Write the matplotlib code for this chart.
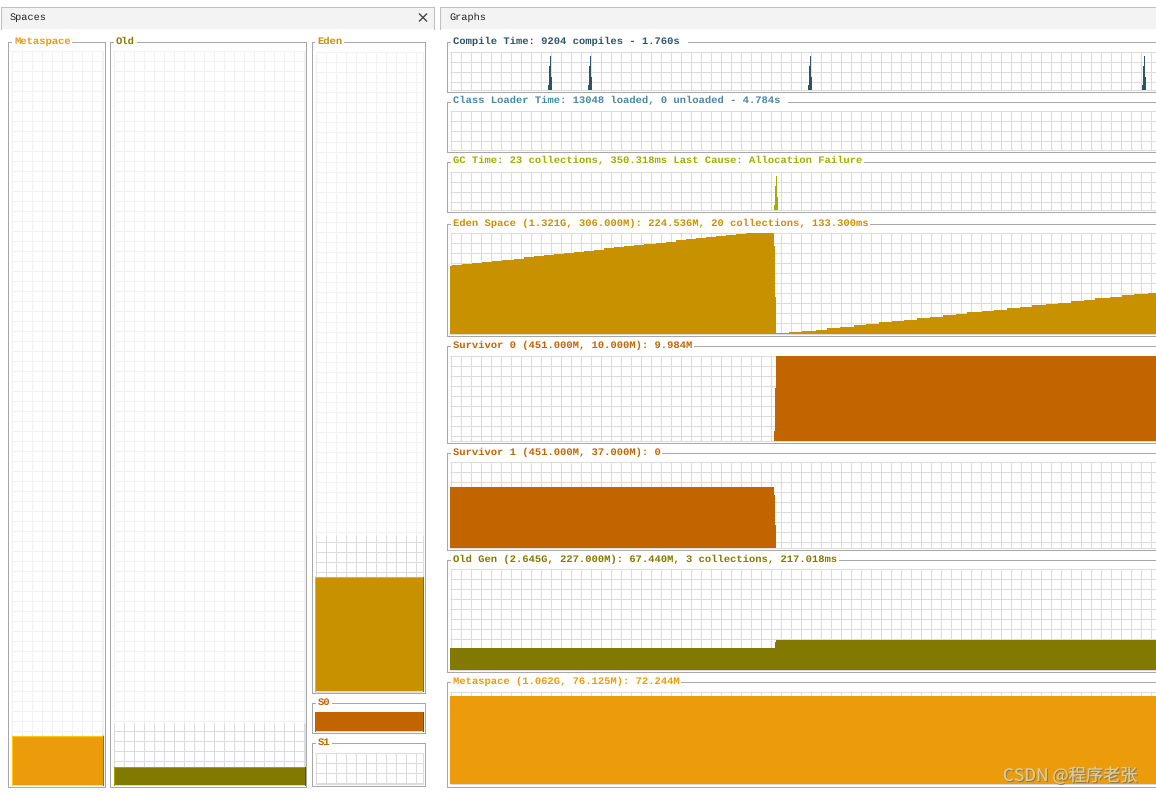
#!/usr/bin/env python3

import numpy as np
import matplotlib
matplotlib.use("Agg")
import matplotlib.pyplot as plt
from matplotlib.patches import Rectangle

W, H = 1156, 795
MONO = "Liberation Mono"

# colours
C_META = "#ec9c0a"
C_EDEN = "#c79100"
C_SURV = "#c26500"
C_OLD = "#827a00"
C_COMPILE = "#2f5468"
C_CLASS = "#4a86a8"
C_GC = "#9db000"
GRID = "#dcdcdc"
GRID_LIGHT = "#f2f2f2"
FRAME = "#a8a8a8"

# Spaces panel, in MB: max, capacity, used
meta_space = [1087.0, 76.125, 72.244]
old_space = [2708.0, 227.0, 67.44]
eden_space = [1352.0, 330.0, 241.0]
s0_space = [10.0, 10.0, 9.984]
s1_space = [37.0, 37.0, 0.0]

# Graphs panel, time axis is samples from the left edge
compile_t = [0, 98, 99, 100, 101, 102, 138, 139, 140, 141, 142,
             358, 359, 360, 361, 362, 692, 693, 694, 695, 696, 706]
compile_pct = [0, 13, 63, 89, 34, 0, 13, 63, 89, 34, 0,
               13, 63, 89, 34, 0, 13, 63, 89, 34, 0, 0]
gc_t = [0, 324, 325, 326, 327, 328, 706]
gc_pct = [0, 13, 63, 89, 34, 0, 0]

eden_t = [0, 2.3, 12.3, 22.3, 32.3, 42.3, 52.3, 64, 74, 84, 94, 104, 114, 124, 134,
          144, 154, 164, 174, 184, 194, 205.7, 215.7, 225.7, 235.7, 245.7, 255.7,
          265.7, 275.7, 285.7, 295.7, 324, 325, 326,
          339.3, 352, 366, 377.3, 390.3, 403.7, 416.3, 429.3, 442, 454, 467.3, 480,
          493.3, 506, 517.3, 532, 544, 557.3, 570, 581.7, 596, 608, 621.3, 634,
          645.3, 660, 671.7, 684, 698, 706]
eden_pct = [67, 68, 69, 70, 71, 72, 73, 74, 76, 77, 78, 79, 80, 81, 82,
            83, 85, 86, 87, 88, 89, 90, 91, 93, 94, 95, 96,
            97, 98, 99, 100, 87, 37, 0.5,
            2, 3, 4, 6, 7, 9, 10, 12, 13, 14, 16, 17,
            19, 20, 22, 23, 24, 26, 27, 29, 30, 31, 33, 34,
            36, 37, 39, 40, 41, 41]

s0_t = [324, 325, 326, 706]
s0_used = [1.2, 6.2, 9.984, 9.984]
s1_t = [0, 324, 325, 326]
s1_used = [26.3, 22.9, 9.9, 0]
old_t = [0, 325, 326, 706]
old_used = [49.6, 62.4, 67.44, 67.44]
meta_t = [0, 706]
meta_used = [72.244, 72.244]

plt.rcParams["font.family"] = [MONO, "DejaVu Sans Mono"]
# hinting rounds the mono advance, titles came out too long or too short
plt.rcParams["text.hinting"] = "no_hinting"
fig = plt.figure(figsize=(W / 100, H / 100), dpi=100, facecolor="white")

# background axes in pixels for tabs, frames and titles
bg = fig.add_axes([0, 0, 1, 1])
bg.set_xlim(0, W)
bg.set_ylim(H, 0)
bg.axis("off")

# lines land one pixel late otherwise
SHIFT = 1


def panel_axes(x0, y0, x1, y1):
    ax = fig.add_axes([x0 / W, 1 - y1 / H, (x1 - x0) / W, (y1 - y0) / H])
    ax.axis("off")
    ax.patch.set_alpha(0)
    return ax


def frame(x0, y0, x1, y1, title, color, tx, open_right=False):
    x0, y0, x1, y1 = x0 - SHIFT, y0 - SHIFT, x1 - SHIFT, y1 - SHIFT
    bg.plot([x0, x0, x1], [y0, y1, y1], color=FRAME, lw=0.75)
    bg.plot([x0, x1], [y0, y0], color=FRAME, lw=0.75)
    if not open_right:
        bg.plot([x1, x1], [y0, y1], color=FRAME, lw=0.75)
    bg.text(tx, y0 - 0.5, title, color=color, fontsize=7.56, fontweight="bold",
            ha="left", va="center", zorder=5,
            bbox=dict(facecolor="white", edgecolor="none", pad=1.2))


def tab(x0, x1, label, tx):
    bg.add_patch(Rectangle((x0, 7), x1 - x0, 21.5, facecolor="#f3f3f3", edgecolor="none"))
    bg.plot([x0, x0, x1], [28.5, 7, 7], color="#c0c0c0", lw=0.75)
    bg.text(tx, 17, label, color="#222222", fontsize=7.4, ha="left", va="center")


tab(0.5, 433.5, "Spaces", 10)
bg.plot([433.5, 433.5], [7, 28.5], color="#c0c0c0", lw=0.75)
tab(439.5, 1156, "Graphs", 449)
bg.plot([419.5, 426.5], [14, 21], color="#444444", lw=1.0)
bg.plot([419.5, 426.5], [21, 14], color="#444444", lw=1.0)


def space_panel(frame_box, plot_box, title, tx, values, color, light, dark):
    frame(*frame_box, title, color, tx)
    x0, y0, x1, y1 = plot_box
    h_px = y1 - y0
    w_px = x1 - x0
    vmax, cap, used = values
    ax = panel_axes(x0, y0, x1, y1)
    ax.set_xlim(0, w_px)
    ax.set_ylim(0, vmax)
    cap_level = min(cap, vmax)

    xs = np.arange(0.5, w_px + 1, 10)
    rows = vmax * (1 - np.arange(0, h_px + 1, 10) / h_px)
    ax.vlines(xs, cap_level, vmax, color=GRID_LIGHT, lw=0.75, clip_on=False, zorder=1)
    ax.vlines(xs, 0, cap_level, color=GRID, lw=0.75, clip_on=False, zorder=1)
    for r in rows:
        ax.hlines(r, 0, w_px, color=GRID if r <= cap_level else GRID_LIGHT, lw=0.75,
                  clip_on=False, zorder=1)
    ax.hlines(0, 0, w_px, color=GRID, lw=0.75, clip_on=False, zorder=1)
    ax.vlines(w_px, cap_level, vmax, color=GRID_LIGHT, lw=0.75, clip_on=False, zorder=1)
    ax.vlines(w_px, 0, cap_level, color=GRID, lw=0.75, clip_on=False, zorder=1)

    if used > 0:
        ax.fill_between([0, w_px], 0, used, color=color, lw=0, zorder=2)
        ax.plot([0, 0, w_px], [0, used, used], color=light, lw=0.75, zorder=3, clip_on=False)
        ax.plot([w_px, w_px], [0, used], color=dark, lw=0.75, zorder=3, clip_on=False)


space_panel((8.5, 42.5, 105.5, 787.5), (11.5, 50.7, 103, 785), "Metaspace", 14,
            meta_space, C_META, "#ffc800", "#a06d08")
space_panel((110.5, 42.5, 307, 787.5), (113.5, 50.7, 304.5, 785), "Old", 116,
            old_space, C_OLD, "#a8a000", "#5c5600")
space_panel((312.5, 42.5, 425.5, 693.5), (315.3, 51.7, 422.7, 691), "Eden", 317,
            eden_space, C_EDEN, "#f0b400", "#8f6a00")
space_panel((312.5, 703.5, 425.5, 733.5), (315.3, 712, 422.7, 731), "S0", 318,
            s0_space, C_SURV, C_SURV, "#8a4800")
space_panel((312.5, 743.5, 425.5, 786.5), (315.3, 752.5, 422.7, 783.5), "S1", 318,
            s1_space, C_SURV, C_SURV, "#8a4800")


def graph_panel(frame_y, plot_y, title, color, ymax):
    frame(447.5, frame_y[0], 1158, frame_y[1], title, color, 453, open_right=True)
    y0, y1 = plot_y
    h_px = y1 - y0
    ax = panel_axes(450, y0, 1156, y1)
    ax.set_xlim(0, 706)
    ax.set_ylim(0, ymax)
    ax.vlines(np.arange(0.5, 706, 10), 0, ymax, color=GRID, lw=0.75, clip_on=False, zorder=1)
    rows = ymax * (1 - np.arange(0, h_px, 10) / h_px)
    ax.hlines(rows, 0, 706, color=GRID, lw=0.75, clip_on=False, zorder=1)
    ax.hlines(0, 0, 706, color=GRID, lw=0.75, clip_on=False, zorder=1)
    return ax


ax = graph_panel((42.5, 92.5), (51.7, 90), "Compile Time: 9204 compiles - 1.760s ", C_COMPILE, 100)
ax.fill_between(compile_t, 0, compile_pct, step="post", color=C_COMPILE, lw=0, zorder=2)

ax = graph_panel((102.5, 152.5), (111.3, 150), "Class Loader Time: 13048 loaded, 0 unloaded - 4.784s ", C_CLASS, 100)

ax = graph_panel((162.5, 212.5), (171.7, 210), "GC Time: 23 collections, 350.318ms Last Cause: Allocation Failure", C_GC, 100)
ax.fill_between(gc_t, 0, gc_pct, step="post", color=C_GC, lw=0, zorder=2)

ax = graph_panel((224.5, 336.5), (233, 334), "Eden Space (1.321G, 306.000M): 224.536M, 20 collections, 133.300ms", C_EDEN, 100)
ax.fill_between(eden_t, 0, eden_pct, step="post", color=C_EDEN, lw=0, zorder=2)

ax = graph_panel((346.5, 443.5), (355.5, 441), "Survivor 0 (451.000M, 10.000M): 9.984M", C_SURV, 10)
ax.fill_between(s0_t, 0, s0_used, step="post", color=C_SURV, lw=0, zorder=2)

ax = graph_panel((453.5, 550.5), (462.3, 548), "Survivor 1 (451.000M, 37.000M): 0", C_SURV, 37)
ax.fill_between(s1_t, 0, s1_used, step="post", color=C_SURV, lw=0, zorder=2)

ax = graph_panel((560.5, 672.5), (569.3, 670), "Old Gen (2.645G, 227.000M): 67.440M, 3 collections, 217.018ms", C_OLD, 227)
ax.fill_between(old_t, 0, old_used, step="post", color=C_OLD, lw=0, zorder=2)

ax = graph_panel((682.5, 787.5), (691.7, 784), "Metaspace (1.062G, 76.125M): 72.244M", C_META, 76.125)
ax.fill_between(meta_t, 0, meta_used, step="post", color=C_META, lw=0, zorder=2)

# watermark sits above everything
fg = fig.add_axes([0, 0, 1, 1])
fg.set_xlim(0, W)
fg.set_ylim(H, 0)
fg.axis("off")
fg.patch.set_alpha(0)
mark = "CSDN @程序老张"
fonts = ["Noto Sans CJK SC", "DejaVu Sans"]
fg.text(1004, 776.8, mark, color="#8a7a50", fontsize=12.4, family=fonts, ha="left", va="center")
fg.text(1003, 776, mark, color="#dccb9c", fontsize=12.4, family=fonts, ha="left", va="center")

fig.savefig("out.png", dpi=100)
